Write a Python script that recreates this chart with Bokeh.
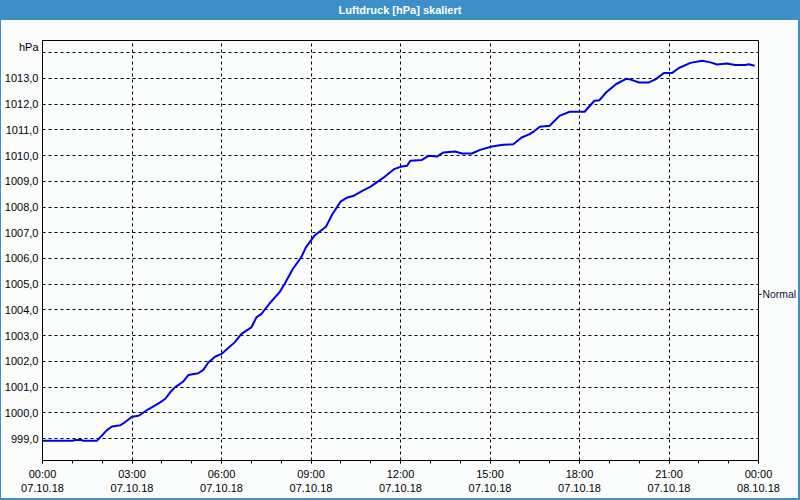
from bokeh.plotting import figure
from bokeh.models import (Range1d, FixedTicker, LinearAxis, Div, Grid)
from bokeh.layouts import column, row
from bokeh.embed import file_html
from bokeh.resources import INLINE

# ---- data ----
title_text = "Luftdruck [hPa] skaliert"
hours = [0, 1.0, 1.1, 1.3, 1.35, 1.83, 2.17, 2.33, 2.61, 2.72, 3.0, 3.22, 3.56, 3.89,
         4.11, 4.28, 4.44, 4.72, 4.89, 5.22, 5.39, 5.56, 5.78, 6.0, 6.44, 6.67, 7.0,
         7.17, 7.33, 7.61, 7.94, 8.11, 8.39, 8.67, 8.83, 9.11, 9.5, 9.72, 10.0, 10.22,
         10.44, 10.72, 11.0, 11.44, 11.78, 12.0, 12.22, 12.33, 12.72, 12.94, 13.22,
         13.44, 13.83, 14.06, 14.39, 14.67, 15.06, 15.44, 15.78, 16.06, 16.33, 16.5,
         16.67, 17.0, 17.33, 17.67, 18.17, 18.5, 18.67, 18.89, 19.22, 19.56, 19.72,
         20.0, 20.33, 20.56, 20.83, 21.11, 21.33, 21.72, 22.11, 22.39, 22.61, 22.94,
         23.22, 23.56, 23.67, 23.87]
pressure = [998.92, 998.92, 998.95, 998.95, 998.92, 998.92, 999.34, 999.47, 999.52,
            999.60, 999.85, 999.89, 1000.15, 1000.37, 1000.54, 1000.80, 1000.99,
            1001.22, 1001.47, 1001.54, 1001.67, 1001.96, 1002.18, 1002.29, 1002.74,
            1003.07, 1003.32, 1003.71, 1003.84, 1004.25, 1004.68, 1005.00, 1005.59,
            1006.04, 1006.43, 1006.88, 1007.23, 1007.73, 1008.22, 1008.37, 1008.44,
            1008.63, 1008.79, 1009.15, 1009.47, 1009.56, 1009.60, 1009.80, 1009.83,
            1009.99, 1009.96, 1010.12, 1010.16, 1010.08, 1010.08, 1010.22, 1010.35,
            1010.42, 1010.44, 1010.70, 1010.83, 1010.96, 1011.12, 1011.16, 1011.54,
            1011.70, 1011.70, 1012.13, 1012.15, 1012.45, 1012.77, 1012.98, 1012.95,
            1012.84, 1012.84, 1012.97, 1013.21, 1013.21, 1013.40, 1013.60, 1013.68,
            1013.62, 1013.54, 1013.58, 1013.52, 1013.52, 1013.55, 1013.49]

x_tick_values = [0, 3, 6, 9, 12, 15, 18, 21, 24]
x_tick_labels = ["00:00\n07.10.18", "03:00\n07.10.18", "06:00\n07.10.18",
                 "09:00\n07.10.18", "12:00\n07.10.18", "15:00\n07.10.18",
                 "18:00\n07.10.18", "21:00\n07.10.18", "00:00\n08.10.18"]
x_minor_ticks = list(range(0, 25))
x_grid_values = [3, 6, 9, 12, 15, 18, 21]

y_tick_values = [999, 1000, 1001, 1002, 1003, 1004, 1005, 1006, 1007, 1008, 1009,
                 1010, 1011, 1012, 1013, 1014.2]
y_tick_labels = ["999,0", "1000,0", "1001,0", "1002,0", "1003,0", "1004,0", "1005,0",
                 "1006,0", "1007,0", "1008,0", "1009,0", "1010,0", "1011,0", "1012,0",
                 "1013,0", "hPa"]
y_grid_values = [999, 1000, 1001, 1002, 1003, 1004, 1005, 1006, 1007, 1008, 1009,
                 1010, 1011, 1012, 1013, 1014]
right_tick_value = [1004.6]
right_tick_label = ["Normal"]

BLUE = "#3d8fc7"
BG = "#fafdfc"
FONT = "Liberation Sans"

p = figure(width=797, height=478, output_backend="svg", toolbar_location=None,
           x_range=Range1d(0, 24), y_range=Range1d(998.15, 1014.47),
           min_border_left=39, min_border_right=38, min_border_top=20,
           min_border_bottom=38, background_fill_color=BG, border_fill_color=BG,
           x_axis_type=None, y_axis_type=None)
p.outline_line_color = "black"
p.outline_line_width = 1

p.line(hours, pressure, line_color="#0000e8", line_width=2)

# bottom axis
xa = LinearAxis(ticker=FixedTicker(ticks=x_tick_values, minor_ticks=x_minor_ticks))
xa.major_label_overrides = {v: l for v, l in zip(x_tick_values, x_tick_labels)}
xa.major_tick_out = 3
xa.major_tick_in = 0
xa.minor_tick_out = 3
xa.minor_tick_in = 0
xa.major_label_standoff = 4
xa.major_label_text_font = FONT
xa.major_label_text_font_size = "11px"
xa.major_label_text_color = "black"
xa.axis_line_color = "black"
p.add_layout(xa, "below")

# left axis
ya = LinearAxis(ticker=FixedTicker(ticks=y_tick_values, minor_ticks=[]))
ya.major_label_overrides = {v: l for v, l in zip(y_tick_values, y_tick_labels)}
ya.major_tick_out = 0
ya.major_tick_in = 0
ya.minor_tick_out = 0
ya.minor_tick_in = 0
ya.major_label_standoff = 4
ya.major_label_text_font = FONT
ya.major_label_text_font_size = "11px"
ya.major_label_text_color = "black"
ya.axis_line_color = "black"
p.add_layout(ya, "left")

# right axis with the single "Normal" mark
ra = LinearAxis(ticker=FixedTicker(ticks=right_tick_value, minor_ticks=[]))
ra.major_label_overrides = {v: l for v, l in zip(right_tick_value, right_tick_label)}
ra.major_tick_out = 3
ra.major_tick_in = 0
ra.minor_tick_out = 0
ra.major_label_standoff = 1
ra.major_label_text_font = FONT
ra.major_label_text_font_size = "10.4px"
ra.major_label_text_color = "#101040"
ra.axis_line_color = None
ra.major_tick_line_color = "black"
p.add_layout(ra, "right")

# grids
gx = Grid(dimension=0, ticker=FixedTicker(ticks=x_grid_values),
          grid_line_color="black", grid_line_dash="3 3", grid_line_width=1)
gy = Grid(dimension=1, ticker=FixedTicker(ticks=y_grid_values),
          grid_line_color="black", grid_line_dash="3 3", grid_line_width=1)
p.add_layout(gx)
p.add_layout(gy)

title_div = Div(text=title_text, width=800, height=20, margin=0,
                styles={"background-color": BLUE, "color": "white",
                        "font-weight": "bold", "font-family": FONT,
                        "font-size": "11px", "text-align": "center",
                        "line-height": "20px", "width": "800px"})
left_bar = Div(text="", width=1, height=478, margin=0,
               styles={"background-color": BLUE})
right_bar = Div(text="", width=2, height=478, margin=0,
                styles={"background-color": BLUE})
bottom_bar = Div(text="", width=800, height=2, margin=0,
                 styles={"background-color": BLUE})

layout = column(title_div, row(left_bar, p, right_bar, spacing=0), bottom_bar,
                spacing=0)

open("out.html", "w").write(file_html(layout, INLINE))
